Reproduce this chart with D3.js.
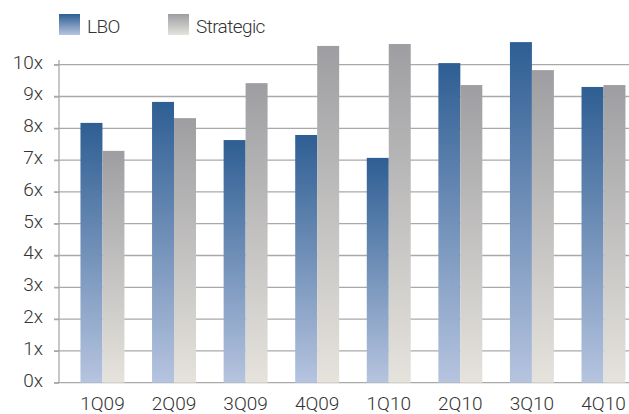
<!DOCTYPE html>
<html lang="en">
<head>
    <meta charset="UTF-8">
    <title>LBO vs Strategic multiples</title>
    <script src="https://d3js.org/d3.v7.min.js"></script>
    <style>
        body { margin: 0; background: #fff; }
        svg text {
            font-family: Roboto, "Liberation Sans", sans-serif;
            font-weight: 300;
            fill: #333;
        }
        .grid line { stroke: #a9a9a9; stroke-width: 1.3px; }
        .axis path, .axis line { stroke: #a9a9a9; stroke-width: 1.3px; }
    </style>
</head>
<body>
<div id="chart"></div>
<script>
    const quarters = ["1Q09", "2Q09", "3Q09", "4Q09", "1Q10", "2Q10", "3Q10", "4Q10"];
    const lbo = [8.17, 8.83, 7.63, 7.79, 7.07, 10.05, 10.71, 9.30];
    const strategic = [7.29, 8.32, 9.42, 10.59, 10.65, 9.36, 9.83, 9.36];
    const seriesNames = ["LBO", "Strategic"];
    const yTicks = [0, 1, 2, 3, 4, 5, 6, 7, 8, 9, 10];

    const width = 629, height = 414;
    const plotLeft = 59, plotBottom = 382.7, plotTop = 64.7;

    const svg = d3.select("#chart").append("svg")
        .attr("width", width)
        .attr("height", height);

    // gradients, one per series, per bar
    const defs = svg.append("defs");
    const grads = [
        { id: "gLbo", top: "#2e5e93", bottom: "#b6c4df" },
        { id: "gStr", top: "#9e9ea2", bottom: "#e6e3dd" }
    ];
    grads.forEach(g => {
        const lg = defs.append("linearGradient")
            .attr("id", g.id)
            .attr("x1", 0).attr("y1", 0).attr("x2", 0).attr("y2", 1);
        lg.append("stop").attr("offset", "0%").attr("stop-color", g.top);
        lg.append("stop").attr("offset", "100%").attr("stop-color", g.bottom);
    });

    const y = d3.scaleLinear().domain([0, 10]).range([plotBottom, plotTop]);

    const x = d3.scaleBand()
        .domain(quarters)
        .range([plotLeft, plotLeft + 71.7 * 8.2])
        .paddingInner(0.386)
        .paddingOuter(0.3);

    const xSub = d3.scaleBand()
        .domain(seriesNames)
        .range([0, x.bandwidth()]);

    // gridlines
    svg.append("g")
        .attr("class", "grid")
        .selectAll("line")
        .data(yTicks)
        .join("line")
        .attr("x1", plotLeft - 5)
        .attr("x2", width)
        .attr("y1", d => y(d))
        .attr("y2", d => y(d));

    // y axis
    const yAxis = svg.append("g")
        .attr("class", "axis")
        .attr("transform", `translate(${plotLeft},0)`)
        .call(d3.axisLeft(y).tickValues(yTicks).tickSize(5).tickSizeOuter(0).tickFormat(d => d + "x"));
    yAxis.select(".domain").attr("d", `M0,${plotTop - 4.7}V${plotBottom}`);
    yAxis.selectAll("text")
        .attr("x", -16)
        .attr("dy", "0.18em")
        .style("font-size", "19px")
        .style("fill", "#333");

    // bars
    const rows = quarters.map((q, i) => ({ q, vals: [lbo[i], strategic[i]] }));
    const groups = svg.append("g")
        .selectAll("g")
        .data(rows)
        .join("g")
        .attr("transform", d => `translate(${x(d.q)},0)`);

    groups.selectAll("rect")
        .data(d => d.vals.map((v, k) => ({ name: seriesNames[k], v, k })))
        .join("rect")
        .attr("x", d => xSub(d.name))
        .attr("y", d => y(d.v))
        .attr("width", xSub.bandwidth())
        .attr("height", d => y(0) - y(d.v))
        .attr("fill", d => `url(#${grads[d.k].id})`);

    // x labels
    svg.append("g")
        .selectAll("text")
        .data(quarters)
        .join("text")
        .attr("x", d => x(d) + x.bandwidth() / 2)
        .attr("y", 410)
        .attr("text-anchor", "middle")
        .style("font-size", "19px")
        .text(d => d);

    // legend
    const legend = svg.append("g")
        .selectAll("g")
        .data(seriesNames)
        .join("g")
        .attr("transform", (d, i) => `translate(${59 + i * 109},14)`);
    legend.append("rect")
        .attr("width", 21)
        .attr("height", 21)
        .attr("fill", (d, i) => `url(#${grads[i].id})`);
    legend.append("text")
        .attr("x", 28)
        .attr("y", 18.5)
        .style("font-size", "19px")
        .style("letter-spacing", "-0.6px")
        .text(d => d);
</script>
</body>
</html>
